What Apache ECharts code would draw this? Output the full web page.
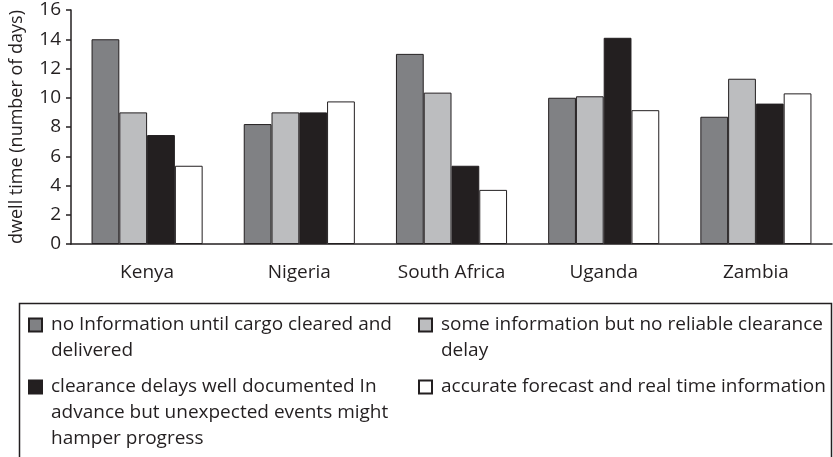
<!DOCTYPE html>
<html>
<head>
<meta charset="utf-8">
<script src="https://cdn.jsdelivr.net/npm/echarts@6/dist/echarts.min.js"></script>
<style>html,body{margin:0;padding:0;background:#fff}#c{width:833px;height:457px}</style>
</head>
<body>
<div id="c"></div>
<script>
var categories = ['Kenya', 'Nigeria', 'South Africa', 'Uganda', 'Zambia'];
var seriesNames = [
  'no Information until cargo cleared and\ndelivered',
  'some information but no reliable clearance\ndelay',
  'clearance delays well documented In\nadvance but unexpected events might\nhamper progress',
  'accurate forecast and real time information'
];
var noInfo = [14.0, 8.2, 13.0, 10.0, 8.7];
var someInfo = [9.0, 9.0, 10.35, 10.1, 11.3];
var wellDocumented = [7.45, 9.0, 5.35, 14.1, 9.6];
var accurate = [5.35, 9.75, 3.7, 9.15, 10.3];
var yTicks = [0, 2, 4, 6, 8, 10, 12, 14, 16];

var FONT = 'Open Sans';
var TXT = '#231f20';
var colors = ['#808184', '#bcbdbf', '#231f20', '#ffffff'];
var values = [noInfo, someInfo, wellDocumented, accurate];
var LH = 26;

function lines(s) { return s.split('\n').length; }

var legendPos = [
  { left: 28, c: 325 },
  { left: 418, c: 325 },
  { left: 28, c: 387 },
  { left: 418, c: 387 }
];

var legends = seriesNames.map(function (name, i) {
  var n = lines(name);
  var h = (2 * n - 1) * LH;
  return {
    data: [name],
    left: legendPos[i].left,
    top: legendPos[i].c - h / 2,
    padding: 0,
    orient: 'vertical',
    itemWidth: 13,
    itemHeight: 13,
    itemGap: 10,
    icon: 'rect',
    selectedMode: false,
    formatter: function (nm) {
      var k = lines(nm);
      var pre = '';
      for (var j = 1; j < k; j++) pre += '\n';
      return pre + nm;
    },
    textStyle: {
      fontFamily: FONT, fontSize: 19, color: TXT, lineHeight: LH,
      padding: [0, 0, 0, 4]
    }
  };
});

var chart = echarts.init(document.getElementById('c'), null, { renderer: 'canvas' });
chart.setOption({
  animation: false,
  backgroundColor: '#fff',
  grid: { left: 61, right: 1, top: 10, bottom: 213, containLabel: false },
  legend: legends,
  graphic: [{
    type: 'rect', shape: { x: 19.5, y: 303.5, width: 812, height: 170 },
    style: { fill: 'none', stroke: TXT, lineWidth: 1.5 }, silent: true, z: -1
  }],
  xAxis: {
    type: 'category', data: categories,
    axisLine: { lineStyle: { color: TXT, width: 1.5 } },
    axisTick: { length: 8, lineStyle: { color: TXT, width: 1.5 } },
    axisLabel: { fontFamily: FONT, fontSize: 19, color: TXT, margin: 19 }
  },
  yAxis: {
    type: 'value', min: yTicks[0], max: yTicks[yTicks.length - 1], interval: 2,
    name: 'dwell time (number of days)', nameLocation: 'middle', nameGap: 45,
    nameTextStyle: { fontFamily: FONT, fontSize: 18, color: TXT },
    axisLine: { show: true, lineStyle: { color: TXT, width: 1.5 } },
    axisTick: { show: true, length: 5, lineStyle: { color: TXT, width: 1.5 } },
    axisLabel: { fontFamily: FONT, fontSize: 19, color: TXT, margin: 10 },
    splitLine: { show: false }
  },
  series: seriesNames.map(function (name, i) {
    return {
      type: 'bar', name: name, data: values[i],
      barGap: '0%', barCategoryGap: '27%',
      itemStyle: { color: colors[i], borderColor: '#231f20', borderWidth: 1 }
    };
  })
});
</script>
</body>
</html>
